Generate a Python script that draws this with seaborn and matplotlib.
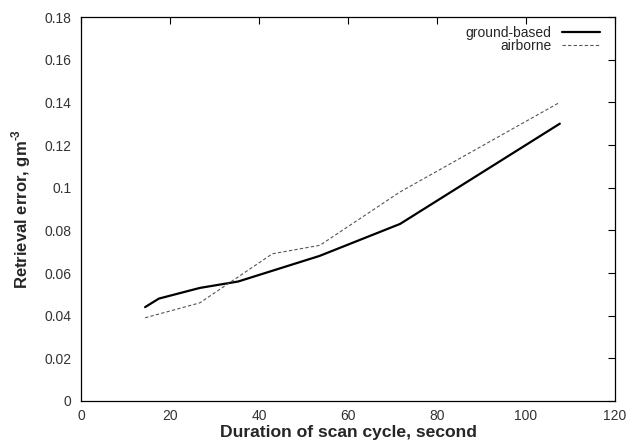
import matplotlib
matplotlib.use("Agg")
import matplotlib.pyplot as plt
import seaborn as sns
import pandas as pd

ground_x = [14.4, 17.5, 26.7, 35.3, 53.6, 71.7, 107.6]
ground_y = [0.044, 0.048, 0.053, 0.056, 0.068, 0.083, 0.130]
air_x = [14.4, 26.7, 43.0, 53.7, 71.7, 107.6]
air_y = [0.039, 0.046, 0.069, 0.073, 0.098, 0.140]
x_ticks = [0, 20, 40, 60, 80, 100, 120]
y_ticks = [0, 0.02, 0.04, 0.06, 0.08, 0.1, 0.12, 0.14, 0.16, 0.18]
y_tick_labels = ["0", "0.02", "0.04", "0.06", "0.08", "0.1", "0.12", "0.14", "0.16", "0.18"]

sns.set_theme(style="white")
plt.rcParams['font.family'] = ['Liberation Sans', 'DejaVu Sans']
plt.rcParams['mathtext.fontset'] = 'custom'
plt.rcParams['mathtext.rm'] = 'Liberation Sans:bold'
plt.rcParams['mathtext.bf'] = 'Liberation Sans:bold'

fig = plt.figure(figsize=(6.32, 4.46), dpi=100)
ax = fig.add_axes([81/632, 1-401/446, (615-81)/632, (401-17)/446])

gdf = pd.DataFrame({"x": ground_x, "y": ground_y})
adf = pd.DataFrame({"x": air_x, "y": air_y})
sns.lineplot(data=gdf, x="x", y="y", ax=ax, color="black", linewidth=1.6, label="ground-based")
sns.lineplot(data=adf, x="x", y="y", ax=ax, color="#555555", linewidth=0.8, linestyle=(0, (3, 2)), label="airborne")

ax.set_xlim(0, 120)
ax.set_ylim(0, 0.18)
ax.set_xticks(x_ticks)
ax.set_yticks(y_ticks)
ax.set_yticklabels(y_tick_labels)
ax.tick_params(direction="in", length=5, width=0.8, top=True, right=True, labelsize=10, colors="black")
ax.tick_params(axis="x", pad=6)
ax.tick_params(axis="y", pad=7)
for lab in ax.get_xticklabels() + ax.get_yticklabels():
    lab.set_color("#333333")
for s in ax.spines.values():
    s.set_color("black")
    s.set_linewidth(0.9)

ax.set_xlabel("Duration of scan cycle, second", fontsize=12.6, fontweight="bold", labelpad=1)
ax.set_ylabel("Retrieval error, gm$^{\\text{-3}}$", fontsize=12, fontweight="bold", labelpad=8)

leg = ax.legend(loc="upper right", bbox_to_anchor=((605.5-81)/534, 1 - 3.5/384),
                frameon=False, markerfirst=False, fontsize=10,
                handlelength=2.75, borderaxespad=0.0, labelspacing=-0.1, handletextpad=0.72)

fig.savefig("out.png", dpi=100)
